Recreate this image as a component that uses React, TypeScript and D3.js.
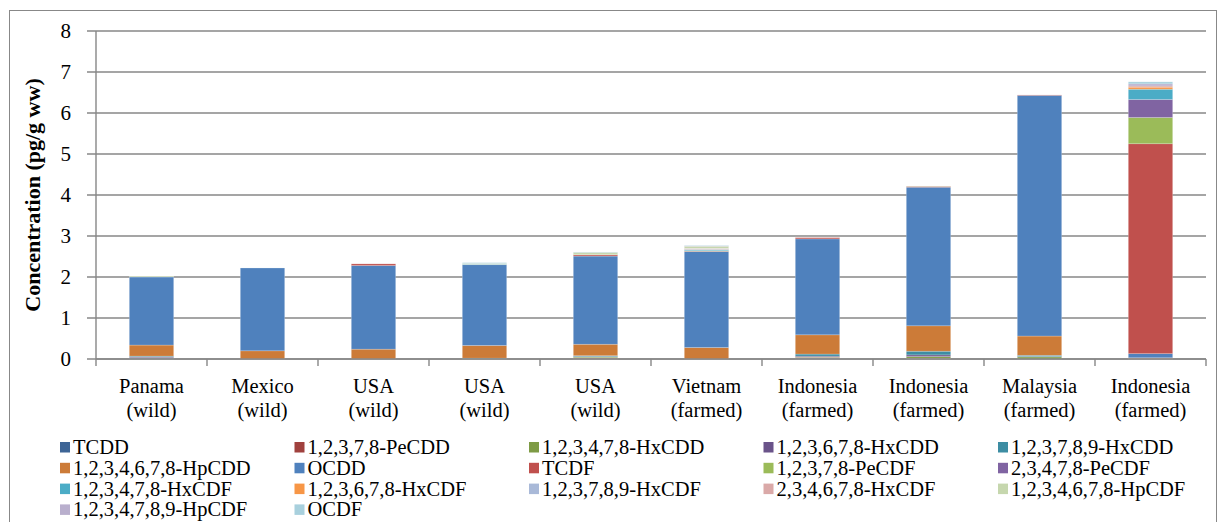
import React from "react";
import * as d3 from "d3";

const countries = ["Panama", "Mexico", "USA", "USA", "USA", "Vietnam", "Indonesia", "Indonesia", "Malaysia", "Indonesia"];
const origins = ["(wild)", "(wild)", "(wild)", "(wild)", "(wild)", "(farmed)", "(farmed)", "(farmed)", "(farmed)", "(farmed)"];

const seriesNames = [
  "TCDD", "1,2,3,7,8-PeCDD", "1,2,3,4,7,8-HxCDD", "1,2,3,6,7,8-HxCDD", "1,2,3,7,8,9-HxCDD",
  "1,2,3,4,6,7,8-HpCDD", "OCDD", "TCDF", "1,2,3,7,8-PeCDF", "2,3,4,7,8-PeCDF",
  "1,2,3,4,7,8-HxCDF", "1,2,3,6,7,8-HxCDF", "1,2,3,7,8,9-HxCDF", "2,3,4,6,7,8-HxCDF", "1,2,3,4,6,7,8-HpCDF",
  "1,2,3,4,7,8,9-HpCDF", "OCDF",
];

const seriesColors = [
  "#3E6596", "#A0413E", "#7E9B45", "#6A5389", "#3D8DA3",
  "#CC7B38", "#4F81BD", "#C0504D", "#9BBB59", "#8064A2",
  "#4BACC6", "#F79646", "#A9B9D8", "#DAA9A8", "#C6D7AE",
  "#B9AFCD", "#A8D0DD",
];

const TCDD = [0.02, 0, 0, 0, 0.01, 0, 0.02, 0.01, 0, 0.01];
const PeCDD = [0, 0, 0, 0, 0.02, 0, 0.02, 0.01, 0, 0];
const HxCDD478 = [0.01, 0, 0, 0, 0.02, 0, 0.01, 0.04, 0.05, 0];
const HxCDD678 = [0.02, 0, 0, 0, 0.01, 0, 0.02, 0.04, 0.01, 0];
const HxCDD789 = [0.02, 0, 0, 0.02, 0.02, 0, 0.05, 0.09, 0.03, 0];
const HpCDD = [0.27, 0.2, 0.24, 0.31, 0.28, 0.28, 0.47, 0.62, 0.47, 0.02];
const OCDD = [1.66, 2.02, 2.04, 1.97, 2.15, 2.34, 2.34, 3.38, 5.87, 0.1];
const TCDF = [0, 0, 0.04, 0, 0.03, 0.01, 0.03, 0.02, 0.01, 5.12];
const PeCDF12378 = [0, 0, 0, 0, 0.01, 0.01, 0, 0, 0, 0.64];
const PeCDF23478 = [0, 0, 0, 0, 0, 0, 0, 0, 0, 0.44];
const HxCDF478 = [0, 0, 0, 0.01, 0, 0.02, 0, 0, 0, 0.25];
const HxCDF678 = [0, 0, 0, 0, 0, 0.01, 0, 0, 0, 0.05];
const HxCDF789 = [0, 0, 0, 0, 0, 0.02, 0, 0, 0, 0];
const HxCDF234678 = [0, 0, 0, 0, 0, 0.01, 0.01, 0, 0, 0.03];
const HpCDF678 = [0.02, 0, 0, 0.02, 0.05, 0.05, 0, 0.01, 0, 0];
const HpCDF789 = [0, 0, 0, 0, 0, 0.01, 0, 0, 0, 0.05];
const OCDF = [0, 0, 0, 0.02, 0.01, 0.01, 0, 0, 0, 0.05];

const seriesValues = [
  TCDD, PeCDD, HxCDD478, HxCDD678, HxCDD789, HpCDD, OCDD, TCDF, PeCDF12378, PeCDF23478,
  HxCDF478, HxCDF678, HxCDF789, HxCDF234678, HpCDF678, HpCDF789, OCDF,
];

const yTicks = [0, 1, 2, 3, 4, 5, 6, 7, 8];

const FONT = "'Times New Roman', Times, 'Liberation Serif', 'DejaVu Serif', serif";

export default function App() {
  const W = 1219, H = 522;
  const left = 96, right = 1206, top = 31, bottom = 359;

  const idx = countries.map((_, i) => i);
  const x = d3.scaleBand<number>().domain(idx).range([left, right]).paddingInner(0.6).paddingOuter(0.3);
  const y = d3.scaleLinear().domain([0, 8]).range([bottom, top]);

  const rows = idx.map((i) => {
    const r: Record<string, number> = {};
    seriesNames.forEach((s, k) => (r[s] = seriesValues[k][i]));
    return r;
  });
  const stacked = d3.stack<Record<string, number>>().keys(seriesNames)(rows);

  const step = x.step();
  const boundaries = d3.range(countries.length + 1).map((i) => left + i * step);

  const legendCols = 5;
  const legX0 = 60, legDX = 234.5, legY0 = 442, legDY = 20.8;
  const txt = { fontFamily: FONT } as React.CSSProperties;

  return (
    <svg width={W} height={H} style={{ position: "absolute", left: 0, top: 0, background: "#fff", fontFamily: FONT }}>
      <rect x={9.5} y={10.5} width={1207} height={540} fill="#fff" stroke="#888" strokeWidth={1} />

      {yTicks.map((t) => (
        <line key={"g" + t} x1={left - 9} x2={right} y1={y(t)} y2={y(t)} stroke="#878787" strokeWidth={1.4} />
      ))}
      {yTicks.map((t) => (
        <text key={"yl" + t} x={71} y={y(t) + 7} textAnchor="end" fontSize={21} fill="#000" style={txt}>
          {t}
        </text>
      ))}

      {stacked.map((layer, k) => (
        <g key={"s" + k} fill={seriesColors[k]}>
          {layer.map((d, i) => {
            const h = y(d[0]) - y(d[1]);
            if (h <= 0) return null;
            return (
              <rect
                key={i}
                x={x(i)!}
                y={y(d[1])}
                width={x.bandwidth()}
                height={h}
                stroke="rgba(255,255,255,0.3)"
                strokeWidth={0.7}
              />
            );
          })}
        </g>
      ))}

      <line x1={left} x2={left} y1={top} y2={bottom} stroke="#878787" strokeWidth={1.4} />
      <line x1={left} x2={right} y1={bottom} y2={bottom} stroke="#878787" strokeWidth={1.4} />
      {boundaries.map((b, i) => (
        <line key={"xt" + i} x1={b} x2={b} y1={bottom} y2={bottom + 7} stroke="#878787" strokeWidth={1.4} />
      ))}

      {idx.map((i) => (
        <g key={"xl" + i}>
          <text x={x(i)! + x.bandwidth() / 2} y={393} textAnchor="middle" fontSize={20.5} fill="#000" style={txt}>
            {countries[i]}
          </text>
          <text x={x(i)! + x.bandwidth() / 2} y={417} textAnchor="middle" fontSize={20.5} fill="#000" style={txt}>
            {origins[i]}
          </text>
        </g>
      ))}

      <text
        transform={`translate(40, ${(top + bottom) / 2}) rotate(-90)`}
        textAnchor="middle"
        fontSize={22}
        fontWeight="bold"
        fill="#000"
        style={txt}
      >
        Concentration (pg/g ww)
      </text>

      {seriesNames.map((s, k) => {
        const col = k % legendCols;
        const row = Math.floor(k / legendCols);
        const lx = legX0 + col * legDX;
        const ly = legY0 + row * legDY;
        return (
          <g key={"lg" + k}>
            <rect x={lx} y={ly} width={10} height={10.5} fill={seriesColors[k]} />
            <text x={lx + 13} y={ly + 12} fontSize={20.5} fill="#000" style={txt}>
              {s}
            </text>
          </g>
        );
      })}
    </svg>
  );
}
